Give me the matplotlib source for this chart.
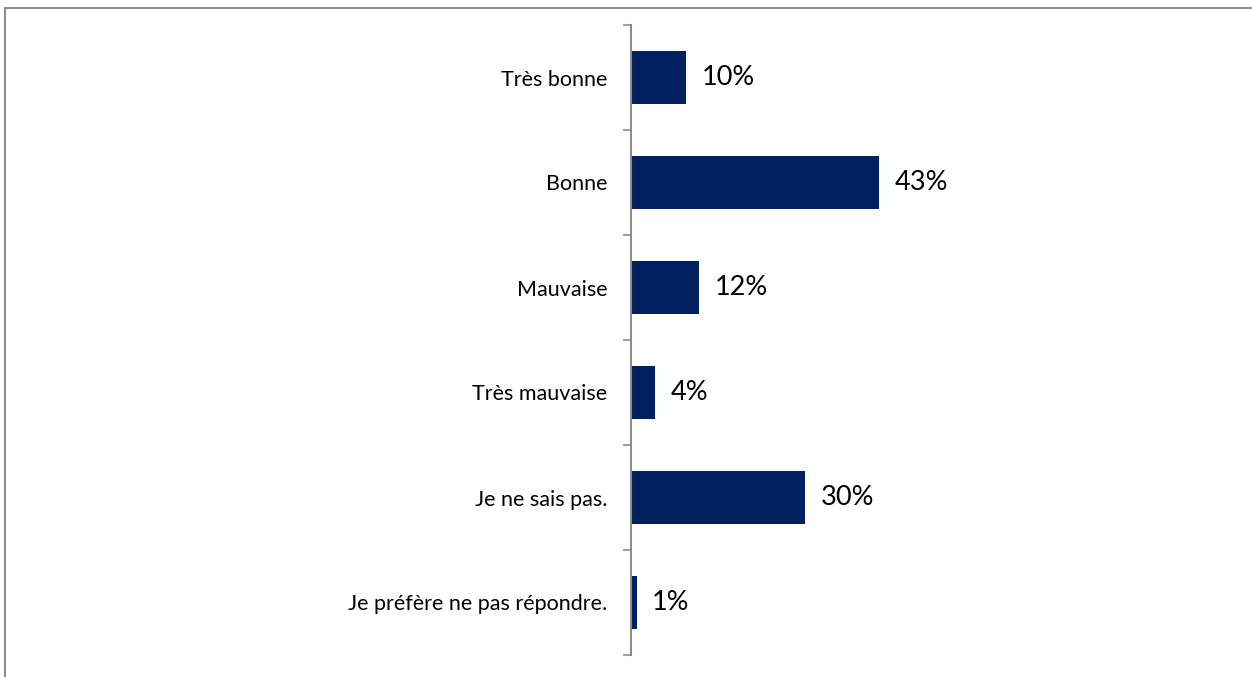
import matplotlib.pyplot as plt
import matplotlib.patches as patches
from matplotlib.ticker import FixedLocator

categories = ["Très bonne", "Bonne", "Mauvaise", "Très mauvaise",
              "Je ne sais pas.", "Je préfère ne pas répondre."]
values = [9.6, 43.0, 11.8, 4.2, 30.2, 1.0]
labels = ["10%", "43%", "12%", "4%", "30%", "1%"]

BAR_COLOR = "#002060"
GRID_GREY = "#8c8c8c"

plt.rcParams["font.family"] = ["Lato", "DejaVu Sans"]

fig = plt.figure(figsize=(12.52, 6.77), dpi=100)
ax = fig.add_axes([631 / 1252, 1 - 655 / 677, 600 / 1252, 630 / 677])

ypos = list(range(len(categories)))
ax.barh(ypos, values, height=0.5, color=BAR_COLOR)
for y, v, lab in zip(ypos, values, labels):
    ax.annotate(lab, (v, y), xytext=(11, 0), textcoords="offset points",
                va="center", ha="left", fontsize=19.5, color="black")

ax.set_xlim(0, 104)
ax.set_ylim(len(categories) - 0.5, -0.5)
ax.set_yticks(ypos)
ax.set_yticklabels(categories, fontsize=15.5)
ax.tick_params(axis="y", which="major", length=0, pad=17)
ax.yaxis.set_minor_locator(FixedLocator([i - 0.5 for i in range(len(categories) + 1)]))
ax.tick_params(axis="y", which="minor", length=6, width=1.2, color=GRID_GREY, direction="out")
ax.set_xticks([])
for side in ("top", "right", "bottom"):
    ax.spines[side].set_visible(False)
ax.spines["left"].set_color(GRID_GREY)
ax.spines["left"].set_linewidth(1.5)

# outer chart frame (left and top edges visible)
fig.add_artist(patches.Rectangle((5 / 1252, -0.01), 1.2, 1 - 8 / 677 + 0.01,
                                 transform=fig.transFigure, fill=False,
                                 edgecolor=GRID_GREY, linewidth=1.5))

fig.savefig("out.png", dpi=100)
